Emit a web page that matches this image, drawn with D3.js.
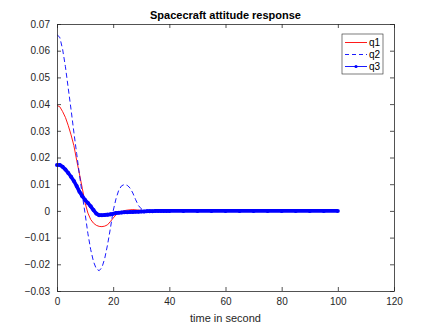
<!DOCTYPE html>
<html>
<head>
<meta charset="utf-8">
<script src="https://cdn.jsdelivr.net/npm/d3@7/dist/d3.min.js"></script>
<style>
  html, body { margin: 0; padding: 0; background: #fff; }
  svg { display: block; font-family: "Liberation Sans", Arial, sans-serif; }
</style>
</head>
<body>
<div id="chart"></div>
<script>
// time samples (s)
const time = [0,1,2,3,4,5,6,7,8,9,10,11,12,13,14,15,16,17,18,19,20,
  21,22,23,24,25,26,27,28,29,30,31,32,33,34,35,36,37,38,39,40,
  45,50,55,60,65,70,75,80,85,90,95,100];

const q1 = [0.0395,0.039,0.0372,0.035,0.032,0.0285,0.0245,0.019,0.0138,0.0085,0.003,
  -0.0008,-0.0032,-0.0046,-0.0054,-0.0058,-0.0059,-0.0057,-0.0052,-0.004,-0.0027,
  -0.0015,-0.0008,-0.0003,0.0001,0.0003,0.0004,0.0005,0.0004,0.0003,0.0002,
  0.0001,0,0,0,0,0,0,0,0,0,
  0,0,0,0,0,0,0,0,0,0,0,0];

const q2 = [0.066,0.065,0.0605,0.054,0.046,0.038,0.0295,0.0215,0.0135,0.006,-0.001,
  -0.0085,-0.0145,-0.019,-0.0217,-0.0224,-0.0212,-0.0178,-0.0127,-0.0066,0,
  0.0045,0.0078,0.0094,0.0099,0.0096,0.0086,0.0067,0.0042,0.002,0.0008,
  0.0002,0,0,0,0,0,0,0,0,0,
  0,0,0,0,0,0,0,0,0,0,0,0];

const q3 = [0.0172,0.0172,0.0165,0.0155,0.0142,0.0128,0.0112,0.0093,0.0072,0.0055,0.0041,
  0.003,0.0017,0.0003,-0.001,-0.0016,-0.0016,-0.0015,-0.0014,-0.0013,-0.0011,
  -0.0008,-0.0007,-0.0006,-0.0005,-0.0005,-0.0004,-0.0004,-0.0003,-0.0003,-0.0002,
  -0.0002,-0.0001,-0.0001,-0.0001,0,0,0,0,0,0,
  0,0,0,0,0,0,0,0,0,0,0,0];

const xTicks = [0,20,40,60,80,100,120];
const yTicks = [-0.03,-0.02,-0.01,0,0.01,0.02,0.03,0.04,0.05,0.06,0.07];
const seriesNames = ['q1','q2','q3'];

const width = 436, height = 327;
const margin = { left: 57, right: 42, top: 24, bottom: 36 };
const axisColor = '#262626';

const svg = d3.select('#chart').append('svg')
  .attr('width', width).attr('height', height);

const x = d3.scaleLinear().domain([0, 120]).range([margin.left, width - margin.right]);
const y = d3.scaleLinear().domain([-0.03, 0.07]).range([height - margin.bottom, margin.top]);

const fmtY = d => d === 0 ? '0' : d3.format('.2f')(d);

// data lines
const plot = svg.append('g');
const pts = arr => time.map((t, i) => [t, arr[i]]);
const line = d3.line().x(d => x(d[0])).y(d => y(d[1]));

plot.append('path').datum(pts(q1))
  .attr('d', line).attr('fill', 'none')
  .attr('stroke', '#ff0000').attr('stroke-width', 0.9);

plot.append('path').datum(pts(q2))
  .attr('d', line).attr('fill', 'none')
  .attr('stroke', '#0000ff').attr('stroke-width', 0.9)
  .attr('stroke-dasharray', '5,3');

plot.append('path').datum(pts(q3))
  .attr('d', line).attr('fill', 'none')
  .attr('stroke', '#0000ff').attr('stroke-width', 3.6)
  .attr('stroke-linejoin', 'round');

plot.selectAll('circle.q3').data(pts(q3)).enter().append('circle')
  .attr('class', 'q3')
  .attr('cx', d => x(d[0])).attr('cy', d => y(d[1])).attr('r', 2)
  .attr('fill', '#0000ff');

// axes box with inward ticks
const axes = svg.append('g');
const [x0, x1] = x.range();
const [y0, y1] = y.range();

axes.append('g').attr('transform', `translate(0,${y0})`)
  .call(d3.axisBottom(x).tickValues(xTicks).tickSizeInner(-4).tickSizeOuter(0).tickPadding(7));
axes.append('g').attr('transform', `translate(0,${y1})`)
  .call(d3.axisTop(x).tickValues(xTicks).tickSizeInner(-4).tickSizeOuter(0).tickFormat(''));
axes.append('g').attr('transform', `translate(${x0},0)`)
  .call(d3.axisLeft(y).tickValues(yTicks).tickSizeInner(-4).tickSizeOuter(0).tickPadding(7).tickFormat(fmtY));
axes.append('g').attr('transform', `translate(${x1},0)`)
  .call(d3.axisRight(y).tickValues(yTicks).tickSizeInner(-4).tickSizeOuter(0).tickFormat(''));

axes.selectAll('.domain').attr('stroke', axisColor).attr('stroke-width', 0.8);
axes.selectAll('.tick line').attr('stroke', axisColor).attr('stroke-width', 0.8);
axes.selectAll('.tick text')
  .attr('fill', axisColor)
  .style('font-size', '10px')
  .style('font-family', '"Liberation Sans", Arial, sans-serif');

// title & label
svg.append('text')
  .attr('x', (x0 + x1) / 2).attr('y', 19)
  .attr('text-anchor', 'middle')
  .style('font-size', '11px').style('font-weight', 'bold')
  .attr('fill', '#000')
  .text('Spacecraft attitude response');

svg.append('text')
  .attr('x', (x0 + x1) / 2).attr('y', 322)
  .attr('text-anchor', 'middle')
  .style('font-size', '11px')
  .attr('fill', axisColor)
  .text('time in second');

// legend
const lg = svg.append('g').attr('transform', 'translate(342,34)');
lg.append('rect')
  .attr('width', 41).attr('height', 40)
  .attr('fill', '#fff').attr('stroke', axisColor).attr('stroke-width', 0.6);

const legendStyles = [
  { color: '#ff0000', dash: null, marker: false },
  { color: '#0000ff', dash: '4,3', marker: false },
  { color: '#0000ff', dash: null, marker: true }
];

seriesNames.forEach((name, i) => {
  const ly = 8.5 + i * 12;
  const st = legendStyles[i];
  lg.append('line')
    .attr('x1', 3).attr('x2', 25).attr('y1', ly).attr('y2', ly)
    .attr('stroke', st.color).attr('stroke-width', 0.9)
    .attr('stroke-dasharray', st.dash);
  if (st.marker) {
    lg.append('circle').attr('cx', 14).attr('cy', ly).attr('r', 1.6).attr('fill', st.color);
  }
  lg.append('text')
    .attr('x', 27).attr('y', ly + 3.5)
    .style('font-size', '10px')
    .attr('fill', '#000')
    .text(name);
});
</script>
</body>
</html>
